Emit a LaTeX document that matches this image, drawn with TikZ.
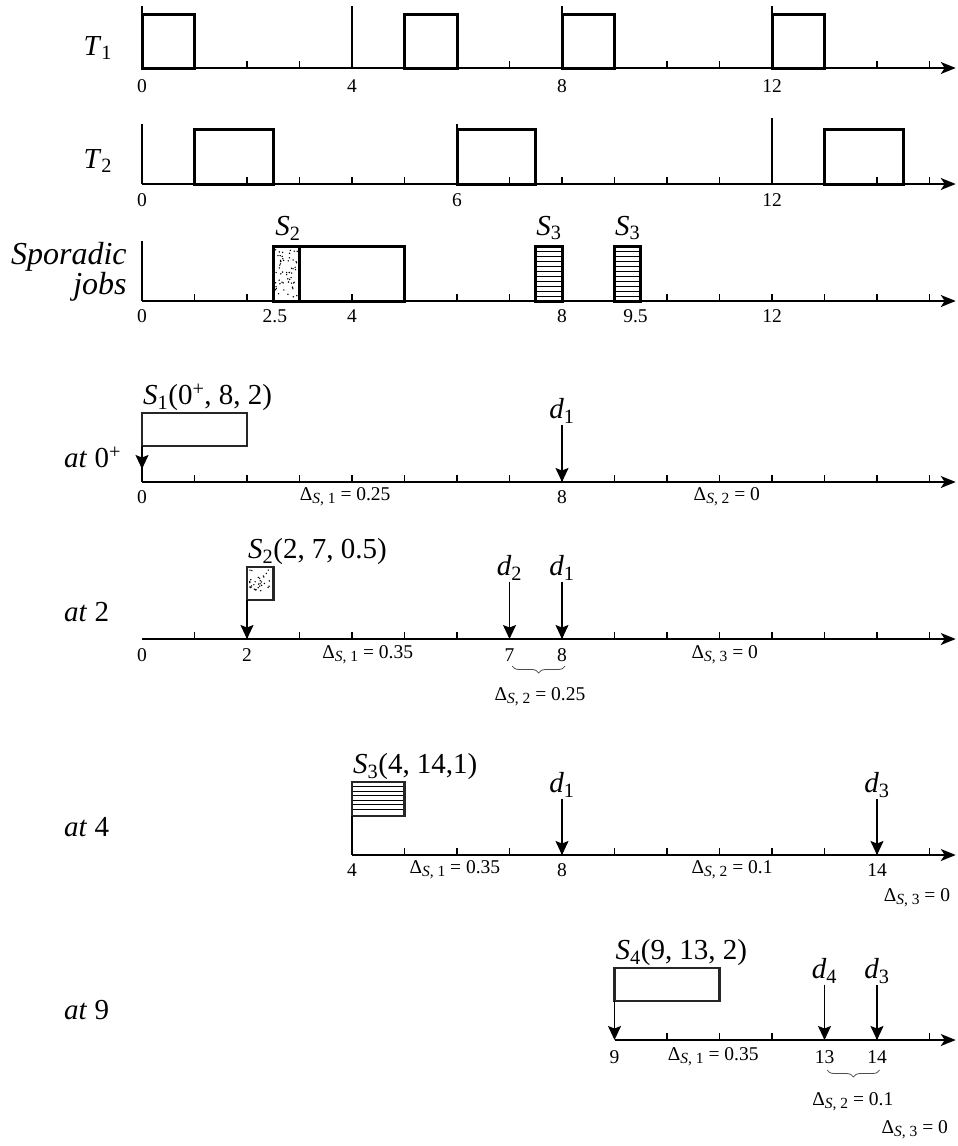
\documentclass[tikz,border=0pt]{standalone}
\usepackage{fontspec}
\setmainfont{Liberation Serif}
\usetikzlibrary{positioning,arrows.meta,decorations.pathreplacing,fit,calc}
\newcommand{\tsk}[2]{\textit{#1}\textsubscript{#2}}
\newcommand{\gap}[1]{Δ\raisebox{-0.35ex}{\fontsize{15.5}{16}\selectfont\textit{S}, #1}}
% random stipple inside a box: x0, x1, ytop, ybot, count
\newcommand{\speckle}[5]{\foreach \k in {1,...,#5}{\fill ({#1+(#2-#1)*rnd},{#3+(#4-#3)*rnd}) circle (0.8pt);}}
% horizontal hatching inside a box: x0, x1, list of y
\newcommand{\hatchlines}[3]{\foreach \hy in {#3}{\draw[line width=0.8pt] (#1,\hy) -- (#2,\hy);}}

\begin{document}
\begin{tikzpicture}[x=52.5pt,y=-1pt,
    cpu/.style={line width=3pt},
    axis/.style={line width=1.8pt,-{Stealth[length=15pt,width=12pt,inset=4pt]}},
    tickln/.style={line width=1.3pt},
    release/.style={line width=1.4pt},
    dl/.style={line width=1.5pt,-{Stealth[length=14pt,width=13pt,inset=2.5pt]}},
    num/.style={font=\fontsize{19.5}{21}\selectfont,inner sep=1pt},
    big/.style={font=\fontsize{29}{32}\selectfont,inner sep=1pt},
    jobbox/.style={draw=black!85,line width=2.8pt,inner sep=0pt,outer sep=0pt},
    brc/.style={decorate,decoration={brace,mirror,amplitude=7pt},line width=0.8pt,black!70}]
\useasboundingbox (-2.7048,0) rectangle (15.5429,1146);
\pgfmathsetseed{11}

% ---- T1 ----
\draw[axis] (0,68) -- (15.5,68);
\foreach \t in {1,...,15} \draw[tickln] (\t,68) -- ++(0,-7);
\foreach \t in {0,4,8,12} \draw[release] (\t,68) -- (\t,6);
\foreach \a in {0,5,8,12} \draw[cpu] (\a,68) rectangle ++(1,-54);
\foreach \n in {0,4,8,12} \node[num] (ta\n) at (\n,86) {\n};
\node[big] (t1) at (-0.84,48) {\tsk{T}{1}};

% ---- T2 ----
\draw[axis] (0,184) -- (15.5,184);
\foreach \t in {1,...,15} \draw[tickln] (\t,184) -- ++(0,-7);
\foreach \t/\h in {0/124,6/124,12/118} \draw[release] (\t,184) -- (\t,\h);
\foreach \a in {1,6,13} \draw[cpu] (\a,184) rectangle ++(1.5,-55);
\foreach \n in {0,6,12} \node[num] (tb\n) at (\n,200) {\n};
\node[big] (t2) at (-0.84,161) {\tsk{T}{2}};

% ---- sporadic jobs ----
\draw[axis] (0,301) -- (15.5,301);
\foreach \t in {1,...,15} \draw[tickln] (\t,301) -- ++(0,-7);
\draw[release] (0,301) -- (0,241);
\speckle{2.54}{2.96}{249}{298}{55}
\hatchlines{7.5}{8}{251,256,...,296}
\hatchlines{9}{9.5}{251,256,...,296}
\draw[cpu] (2.5,301) rectangle (3,246);
\draw[cpu] (3,301) rectangle (5,246);
\draw[cpu] (7.5,301) rectangle (8,246);
\draw[cpu] (9,301) rectangle (9.5,246);
\node[big] (sp2) at (2.78,228) {\tsk{S}{2}};
\node[big] (sp3a) at (7.75,228) {\tsk{S}{3}};
\node[big] (sp3b) at (9.25,228) {\tsk{S}{3}};
\node[num] (tc0) at (0,316) {0};
\node[num] (tc1) at (2.53,316) {2.5};
\node[num] (tc2) at (4,316) {4};
\node[num] (tc3) at (8,316) {8};
\node[num] (tc4) at (9.4,316) {9.5};
\node[num] (tc5) at (12,316) {12};
\node[big,font=\fontsize{32}{30}\selectfont,align=right,anchor=east] (spor) at (-0.27,272) {\textit{Sporadic}\\\textit{jobs}};

% ---- at 0+ ----
\node[big,anchor=west] (at0) at (-1.505,457) {\textit{at} 0\textsuperscript{+}};
\draw[axis] (0,482) coordinate (ax0) -- (15.5,482);
\foreach \t in {1,...,15} \draw[tickln] (\t,482) -- ++(0,-7);
\node[jobbox,fit={(0,413) (2,446)}] (s1) {};
\node[big,anchor=south west] (s1l) at ([yshift=1pt]s1.north west) {\tsk{S}{1}(0\textsuperscript{+}, 8, 2)};
\draw[release] (s1.south west) -- (ax0);
\draw[dl] (s1.south west) -- ([yshift=-23pt]s1.south west);
\node[big] (d1a) at (8,411) {\tsk{d}{1}};
\draw[dl] (d1a.south) -- (d1a |- ax0);
\node[num] (na0) at (0,497) {0};
\node[num] (na8) at (8,497) {8};
\node[num] (ga1) at (3.87,497) {\gap{1} = 0.25};
\node[num] (ga2) at (11.14,497) {\gap{2} = 0};

% ---- at 2 ----
\node[big,anchor=west] (at2) at (-1.505,612) {\textit{at} 2};
\draw[axis] (0,639) coordinate (ax2) -- (15.5,639);
\foreach \t in {1,...,15} \draw[tickln] (\t,639) -- ++(0,-7);
\speckle{2.05}{2.45}{570}{597}{32}
\node[jobbox,fit={(2,567) (2.5,600)}] (s2) {};
\node[big,anchor=south west] (s2l) at ([yshift=1pt]s2.north west) {\tsk{S}{2}(2, 7, 0.5)};
\draw[dl] (s2.south west) -- (s2.south west |- ax2);
\node[big] (d2b) at (7,568) {\tsk{d}{2}};
\node[big] (d1b) at (8,568) {\tsk{d}{1}};
\draw[dl] (d2b.south) -- (d2b |- ax2);
\draw[dl] (d1b.south) -- (d1b |- ax2);
\node[num] (nb0) at (0,655) {0};
\node[num] (nb2) at (2,655) {2};
\node[num] (nb7) at (7,655) {7};
\node[num] (nb8) at (8,655) {8};
\node[num] (gb1) at (4.3,655) {\gap{1} = 0.35};
\node[num] (gb3) at (11.1,655) {\gap{3} = 0};
\draw[brc] (7.05,666) -- (8.06,666);
\node[num] (gb2) at (7.58,697) {\gap{2} = 0.25};

% ---- at 4 ----
\node[big,anchor=west] (at4) at (-1.505,827) {\textit{at} 4};
\draw[axis] (4,855) coordinate (ax4) -- (15.5,855);
\foreach \t in {5,...,15} \draw[tickln] (\t,855) -- ++(0,-7);
\hatchlines{4}{5}{786.5,791,...,812}
\node[jobbox,fit={(4,782) (5,816)}] (s3) {};
\node[big,anchor=south west] (s3l) at ([yshift=1pt]s3.north west) {\tsk{S}{3}(4, 14,1)};
\draw[release] (s3.south west) -- (ax4);
\node[big] (d1c) at (8,785) {\tsk{d}{1}};
\node[big] (d3c) at (14,785) {\tsk{d}{3}};
\draw[dl] (d1c.south) -- (d1c |- ax4);
\draw[dl] (d3c.south) -- (d3c |- ax4);
\node[num] (nc4) at (4,870) {4};
\node[num] (nc8) at (8,870) {8};
\node[num] (nc14) at (14,870) {14};
\node[num] (gc1) at (5.96,870) {\gap{1} = 0.35};
\node[num] (gc2) at (11.24,870) {\gap{2} = 0.1};
\node[num] (gc3) at (14.76,898) {\gap{3} = 0};

% ---- at 9 ----
\node[big,anchor=west] (at9) at (-1.505,1010) {\textit{at} 9};
\draw[axis] (9,1040) coordinate (ax9) -- (15.5,1040);
\foreach \t in {10,...,15} \draw[tickln] (\t,1040) -- ++(0,-7);
\node[jobbox,fit={(9,968) (11,1001)}] (s4) {};
\node[big,anchor=south west] (s4l) at ([yshift=1pt]s4.north west) {\tsk{S}{4}(9, 13, 2)};
\draw[dl] (s4.south west) -- (ax9);
\node[big] (d4d) at (13,971) {\tsk{d}{4}};
\node[big] (d3d) at (14,971) {\tsk{d}{3}};
\draw[dl] (d4d.south) -- (d4d |- ax9);
\draw[dl] (d3d.south) -- (d3d |- ax9);
\node[num] (nd9) at (9,1057) {9};
\node[num] (nd13) at (13,1057) {13};
\node[num] (nd14) at (14,1057) {14};
\node[num] (gd1) at (10.88,1057) {\gap{1} = 0.35};
\draw[brc] (13.05,1070) -- (14.05,1070);
\node[num] (gd2) at (13.54,1102) {\gap{2} = 0.1};
\node[num] (gd3) at (14.72,1130) {\gap{3} = 0};
\end{tikzpicture}
\end{document}
